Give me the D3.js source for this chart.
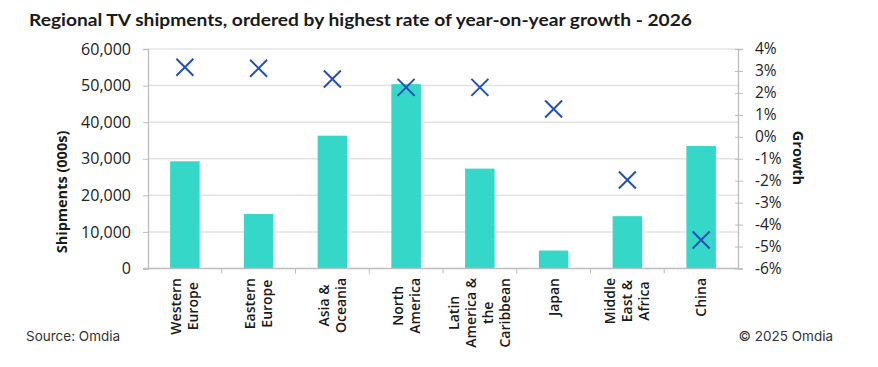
<!DOCTYPE html>
<html>
<head>
<meta charset="utf-8">
<script src="https://cdn.jsdelivr.net/npm/d3@7"></script>
<style>
  html, body { margin: 0; padding: 0; background: #fff; }
  svg { display: block; }
</style>
</head>
<body>
<svg id="chart" width="878" height="367"></svg>
<script>
const categories = ["Western Europe", "Eastern Europe", "Asia & Oceania", "North America", "Latin America & the Caribbean", "Japan", "Middle East & Africa", "China"];
const categoryLines = [["Western", "Europe"], ["Eastern", "Europe"], ["Asia &", "Oceania"], ["North", "America"], ["Latin", "America &", "the", "Caribbean"], ["Japan"], ["Middle", "East &", "Africa"], ["China"]];
const shipments = [29300, 14900, 36300, 50400, 27300, 4900, 14300, 33500];
const growth = [0.0317, 0.0312, 0.0263, 0.0225, 0.0225, 0.0127, -0.0197, -0.0470];
const leftTicks = [0, 10000, 20000, 30000, 40000, 50000, 60000];
const rightTicks = [-0.06, -0.05, -0.04, -0.03, -0.02, -0.01, 0, 0.01, 0.02, 0.03, 0.04];

const svg = d3.select("#chart");
const font = "'Open Sans', sans-serif";
const M = { left: 148, right: 738, top: 49, bottom: 268.5 };

const x = d3.scaleBand().domain(categories).range([M.left, M.right]).padding(0);
const yL = d3.scaleLinear().domain([0, 60000]).range([M.bottom, M.top]);
const yR = d3.scaleLinear().domain([-0.06, 0.04]).range([M.bottom, M.top]);

// Title
svg.append("text")
  .attr("x", 29).attr("y", 26)
  .attr("font-family", "Lato, sans-serif").attr("font-weight", 700)
  .attr("font-size", 17.5).attr("fill", "#1a1a1a")
  .attr("textLength", 663).attr("lengthAdjust", "spacingAndGlyphs")
  .text("Regional TV shipments, ordered by highest rate of year-on-year growth - 2026");

// Gridlines
svg.append("g").selectAll("line").data(leftTicks.filter(d => d > 0)).join("line")
  .attr("x1", M.left).attr("x2", M.right)
  .attr("y1", d => yL(d)).attr("y2", d => yL(d))
  .attr("stroke", "#e3e3e3").attr("stroke-width", 1.5);

// Bars
const bw = x.bandwidth() * 0.4;
svg.append("g").selectAll("rect").data(categories).join("rect")
  .attr("x", d => x(d) + x.bandwidth() / 2 - bw / 2)
  .attr("width", bw)
  .attr("y", (d, i) => yL(shipments[i]))
  .attr("height", (d, i) => yL(0) - yL(shipments[i]))
  .attr("fill", "#35d7c8");

// Left axis
const gL = svg.append("g").attr("transform", `translate(${M.left},0)`)
  .call(d3.axisLeft(yL).tickValues(leftTicks).tickFormat(d3.format(",")).tickSize(5).tickPadding(12));
gL.select(".domain").attr("stroke", "#bdbdbd").attr("stroke-width", 1.3);
gL.selectAll(".tick line").attr("stroke", "#bdbdbd");
gL.selectAll(".tick text").attr("font-family", font).attr("font-size", 16).attr("fill", "#222");

// Right axis
const pct = d => Math.round(d * 100) + "%";
const gR = svg.append("g").attr("transform", `translate(${M.right},0)`)
  .call(d3.axisRight(yR).tickValues(rightTicks).tickFormat(pct).tickSize(5).tickPadding(12));
gR.select(".domain").attr("stroke", "#bdbdbd").attr("stroke-width", 1.3);
gR.selectAll(".tick line").attr("stroke", "#bdbdbd").attr("x1", -3);
gR.selectAll(".tick text").attr("font-family", font).attr("font-size", 15.5).attr("fill", "#222")
  .attr("text-anchor", "start").attr("x", 17);

// Bottom axis
const gB = svg.append("g").attr("transform", `translate(0,${M.bottom})`);
gB.append("line").attr("x1", M.left - 5).attr("x2", M.right).attr("y1", 0).attr("y2", 0)
  .attr("stroke", "#bdbdbd").attr("stroke-width", 1.3);
gB.selectAll("line.t").data(categories.slice(1)).join("line").attr("class", "t")
  .attr("x1", d => x(d)).attr("x2", d => x(d)).attr("y1", 0).attr("y2", 5)
  .attr("stroke", "#bdbdbd");

// Category labels
const lineGap = 17;
categories.forEach((c, i) => {
  const lines = categoryLines[i];
  const cx = x(c) + x.bandwidth() / 2;
  const g = svg.append("g");
  const texts = lines.map((l, j) => g.append("text")
    .attr("font-family", font).attr("font-weight", 600).attr("font-size", 14).attr("fill", "#1a1a1a")
    .attr("text-anchor", "middle").text(l));
  const maxW = d3.max(texts, t => t.node().getComputedTextLength());
  const cy = 278 + maxW / 2;
  const n = lines.length;
  texts.forEach((t, j) => {
    const lx = cx + (j - (n - 1) / 2) * lineGap + 5;
    t.attr("transform", `translate(${lx},${cy}) rotate(-90)`);
  });
});

// Markers
const s = 8.5;
svg.append("g").selectAll("path").data(categories).join("path")
  .attr("d", (d, i) => {
    const cx = x(d) + x.bandwidth() / 2, cy = yR(growth[i]);
    return `M${cx - s},${cy - s}L${cx + s},${cy + s}M${cx - s},${cy + s}L${cx + s},${cy - s}`;
  })
  .attr("stroke", "#2350b5").attr("stroke-width", 2).attr("fill", "none");

// Axis titles
svg.append("text")
  .attr("transform", `translate(67,192) rotate(-90)`)
  .attr("text-anchor", "middle").attr("font-family", font).attr("font-weight", 700)
  .attr("font-size", 14.5).attr("fill", "#1a1a1a").text("Shipments (000s)");
svg.append("text")
  .attr("transform", `translate(793,158) rotate(90)`)
  .attr("text-anchor", "middle").attr("font-family", font).attr("font-weight", 700)
  .attr("font-size", 14.5).attr("fill", "#1a1a1a").text("Growth");

// Footer
svg.append("text").attr("x", 26).attr("y", 341)
  .attr("font-family", "Inter, sans-serif").attr("font-size", 13.5).attr("fill", "#333")
  .text("Source: Omdia");
svg.append("text").attr("x", 833).attr("y", 341).attr("text-anchor", "end")
  .attr("font-family", "Inter, sans-serif").attr("font-size", 13.5).attr("fill", "#333")
  .text("© 2025 Omdia");
</script>
</body>
</html>
